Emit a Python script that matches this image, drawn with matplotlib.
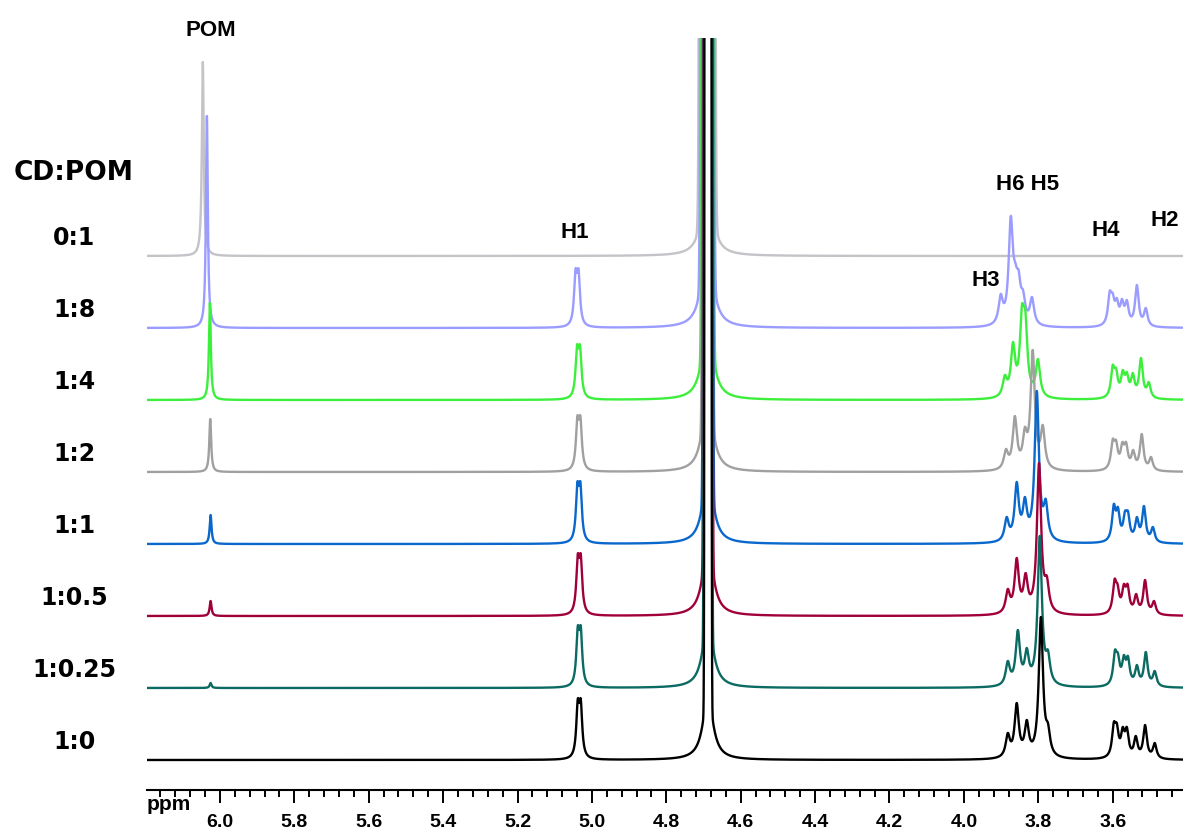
import numpy as np
import matplotlib
matplotlib.use("Agg")
import matplotlib.pyplot as plt
from matplotlib.ticker import MultipleLocator, FormatStrFormatter

W, H = 1183, 833
DPI = 100

# --- data (ppm / apparent peak heights in px above each trace baseline) ---
ratios = ["0:1", "1:8", "1:4", "1:2", "1:1", "1:0.5", "1:0.25", "1:0"]
colors = ["#c3c3c8", "#9a9cff", "#3cef3c", "#a0a0a0", "#0a68cc", "#a0003a", "#0b6a62", "#000000"]

pom_ppm = [6.046, 6.035, 6.027, 6.026, 6.025, 6.025, 6.025, 6.025]
pom_height = [194, 212, 97, 53, 29, 15, 5, 0]

h1_ppm = [5.035, 5.040, 5.036, 5.035, 5.035, 5.034, 5.034, 5.034]
h1_height = [0, 59, 55, 56, 62, 62, 62, 61]

# HOD line: core width (ppm) and height of its broad foot
water_ppm = [4.690, 4.690, 4.689, 4.689, 4.688, 4.688, 4.688, 4.688]
water_core = [0.0056, 0.0048, 0.0042, 0.0038, 0.0035, 0.0032, 0.0029, 0.0025]
water_foot = [80, 95, 85, 80, 75, 75, 70, 65]

h356_ppm = [[],
            [3.901, 3.874, 3.862, 3.853, 3.841, 3.817],
            [3.890, 3.868, 3.844, 3.835, 3.801],
            [3.887, 3.863, 3.836, 3.815, 3.788],
            [3.885, 3.858, 3.836, 3.804, 3.780],
            [3.882, 3.858, 3.834, 3.798, 3.777],
            [3.882, 3.855, 3.831, 3.796, 3.774],
            [3.882, 3.858, 3.831, 3.793, 3.774]]
h356_height = [[],
               [34, 112, 66, 58, 38, 31],
               [25, 58, 95, 90, 41],
               [23, 56, 45, 122, 47],
               [27, 62, 47, 153, 45],
               [27, 58, 43, 153, 40],
               [27, 58, 40, 152, 38],
               [27, 57, 40, 143, 37]]

h42_ppm = [[],
           [3.608, 3.600, 3.589, 3.575, 3.562, 3.535, 3.511],
           [3.600, 3.591, 3.573, 3.562, 3.546, 3.524, 3.503],
           [3.600, 3.591, 3.574, 3.564, 3.545, 3.522, 3.497],
           [3.597, 3.586, 3.567, 3.559, 3.535, 3.516, 3.492],
           [3.595, 3.587, 3.570, 3.560, 3.537, 3.513, 3.489],
           [3.594, 3.586, 3.570, 3.559, 3.535, 3.511, 3.487],
           [3.597, 3.589, 3.573, 3.562, 3.538, 3.513, 3.487]]
h42_height = [[],
              [37, 35, 30, 29, 28, 43, 20],
              [35, 32, 30, 28, 27, 42, 18],
              [33, 32, 30, 30, 22, 38, 15],
              [40, 37, 33, 33, 27, 38, 17],
              [37, 32, 32, 32, 22, 36, 15],
              [38, 35, 33, 32, 23, 36, 17],
              [38, 37, 33, 33, 24, 35, 17]]

ticks = [6.0, 5.8, 5.6, 5.4, 5.2, 5.0, 4.8, 4.6, 4.4, 4.2, 4.0, 3.8, 3.6]

W_POM, W_H1, W_H356, W_H42 = 0.003, 0.0048, 0.0068, 0.0058
H1_SPLIT = 0.008
WATER_PEAK = 1e6      # far off scale, clipped at the top like the original
WATER_FOOT_W = 0.016
SPACING = 72.0


def lor(x, x0, w):
    return w * w / ((x - x0) ** 2 + w * w)


def trace(x, i):
    pos, tgt, wid = [], [], []
    if pom_height[i] > 0:
        pos.append(pom_ppm[i]); tgt.append(pom_height[i]); wid.append(W_POM)
    if h1_height[i] > 0:
        for s in (-0.5, 0.5):
            pos.append(h1_ppm[i] + s * H1_SPLIT); tgt.append(h1_height[i]); wid.append(W_H1)
    for p, h in zip(h356_ppm[i], h356_height[i]):
        pos.append(p); tgt.append(h); wid.append(W_H356)
    for p, h in zip(h42_ppm[i], h42_height[i]):
        pos.append(p); tgt.append(h); wid.append(W_H42)
    pos, tgt, wid = np.array(pos), np.array(tgt, float), np.array(wid)
    # amplitudes so that the summed curve reaches the read heights at each peak
    M = np.array([[lor(pi, pj, wj) for pj, wj in zip(pos, wid)] for pi in pos])
    amp = np.clip(np.linalg.lstsq(M, tgt, rcond=None)[0], 0, None)
    y = np.zeros_like(x)
    for a, p, w in zip(amp, pos, wid):
        y += a * lor(x, p, w)
    d = x - water_ppm[i]
    y += WATER_PEAK * np.exp(-d * d / (2 * water_core[i] ** 2))
    y += water_foot[i] * lor(x, water_ppm[i], WATER_FOOT_W)
    return y


fig = plt.figure(figsize=(W / DPI, H / DPI), dpi=DPI)
ax = fig.add_axes([147 / W, (H - 790) / H, (W - 147) / W, (790 - 38) / H])

x = np.linspace(6.25, 3.35, 14000)
n = len(ratios)
for i in range(n):
    base = 30 + SPACING * (n - 1 - i)
    ax.plot(x, base + trace(x, i), color=colors[i], lw=1.7, zorder=2 + i,
            solid_joinstyle="round")

ax.set_xlim(6.196, 3.411)
ax.set_ylim(0, 752)
for s in ("top", "left", "right"):
    ax.spines[s].set_visible(False)
ax.spines["bottom"].set_linewidth(1.5)
ax.set_yticks([])
ax.set_xticks(ticks)
ax.xaxis.set_major_formatter(FormatStrFormatter("%.1f"))
ax.xaxis.set_minor_locator(MultipleLocator(0.04))
ax.tick_params(axis="x", which="major", length=9.4, width=1.4, pad=8,
               labelsize=14)
ax.tick_params(axis="x", which="minor", length=5, width=1.4)
for t in ax.get_xticklabels():
    t.set_fontfamily("Liberation Sans"); t.set_fontweight("bold")


def ftxt(px, py, s, **kw):
    fig.text(px / W, 1 - py / H, s, ha=kw.pop("ha", "center"), va="center", **kw)


ftxt(147, 805, "ppm", ha="left", fontsize=15, fontweight="bold", family="Liberation Sans")

hl = dict(fontsize=16, fontweight="bold", family="Liberation Sans")
ftxt(211, 30, "POM", **hl)
ftxt(575, 233, "H1", **hl)
ftxt(1028, 185, "H6 H5", **hl)
ftxt(986, 280, "H3", **hl)
ftxt(1106, 231, "H4", **hl)
ftxt(1165, 220, "H2", **hl)

ftxt(74, 173, "CD:POM", fontsize=19, fontweight="bold", family="DejaVu Sans")
for i, r in enumerate(ratios):
    base = 30 + SPACING * (n - 1 - i)
    ftxt(74, 790 - base - 18, r, fontsize=17, fontweight="bold", family="DejaVu Sans")

fig.savefig("out.png", dpi=DPI)
